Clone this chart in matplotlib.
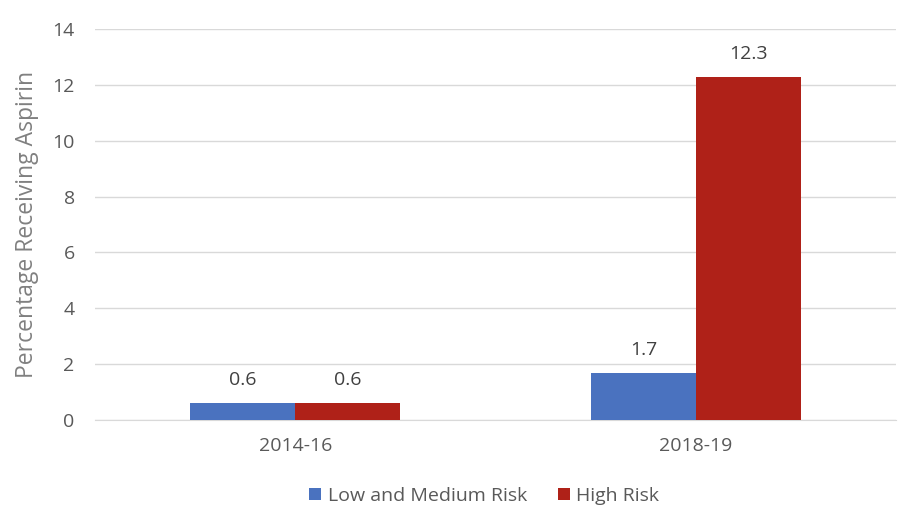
import matplotlib
matplotlib.use("Agg")
import matplotlib.pyplot as plt
import numpy as np

categories = ["2014-16", "2018-19"]
series_names = ["Low and Medium Risk", "High Risk"]
low_medium = [0.6, 1.7]
high = [0.6, 12.3]
colors = ["#4A72BF", "#AF2118"]
yticks = [0, 2, 4, 6, 8, 10, 12, 14]

plt.rcParams['font.family'] = ['Open Sans', 'DejaVu Sans']

fig = plt.figure(figsize=(9.12, 5.2), dpi=100)
ax = fig.add_axes([0.104, 0.1923, 0.879, 0.7517])

x = np.arange(len(categories))
w = 0.2625
vals = [low_medium, high]
for i, (name, v) in enumerate(zip(series_names, vals)):
    pos = x + (i - 0.5) * w
    bars = ax.bar(pos, v, w, color=colors[i], label=name, zorder=3)
    for b, val in zip(bars, v):
        ax.text(b.get_x() + b.get_width() / 2, val + 0.5, f"{val:.1f}",
                ha="center", va="bottom", fontsize=14, color="#404040")

ax.set_xlim(-0.5, 1.5)
ax.set_ylim(0, 14)
ax.set_yticks(yticks)
ax.set_xticks(x)
ax.set_xticklabels(categories)
ax.tick_params(axis="both", length=0, labelsize=14, colors="#595959")
ax.tick_params(axis="y", pad=14.5)
ax.tick_params(axis="x", pad=12)
ax.grid(axis="y", color="#D9D9D9", linewidth=1, zorder=0)
for s in ["top", "right", "left"]:
    ax.spines[s].set_visible(False)
ax.spines["bottom"].set_color("#D9D9D9")
ax.set_ylabel("Percentage Receiving Aspirin", fontsize=16.5, color="#808080", labelpad=9.5)

fig.legend(loc="center", bbox_to_anchor=(0.531, 0.046), ncol=2, frameon=False,
           fontsize=14, handlelength=0.6, handleheight=0.6, columnspacing=1.6,
           handletextpad=0.35, labelcolor="#595959")

fig.savefig("out.png", dpi=100)
